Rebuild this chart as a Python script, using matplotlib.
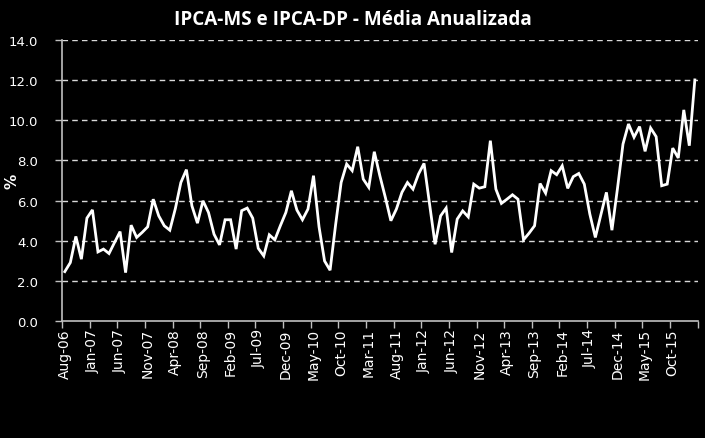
import matplotlib
matplotlib.use("Agg")
import matplotlib.pyplot as plt
import numpy as np
import pandas as pd

# Monthly series, Aug-06 .. Feb-16
months = pd.date_range("2006-08-01", "2016-02-01", freq="MS")
values = [
    2.47, 2.92, 4.22, 3.09, 5.13, 5.54, 3.45, 3.59, 3.37, 3.92,
    4.46, 2.42, 4.78, 4.17, 4.42, 4.70, 6.07, 5.24, 4.75, 4.53,
    5.60, 6.90, 7.54, 5.74, 4.88, 5.99, 5.41, 4.33, 3.80, 5.05,
    5.05, 3.59, 5.50, 5.63, 5.13, 3.63, 3.25, 4.30, 4.05, 4.75,
    5.41, 6.49, 5.53, 5.05, 5.58, 7.24, 4.70, 3.00, 2.54, 4.80,
    6.90, 7.82, 7.49, 8.68, 7.07, 6.66, 8.43, 7.24, 6.16, 5.00,
    5.58, 6.41, 6.90, 6.57, 7.32, 7.85, 5.83, 3.83, 5.24, 5.63,
    3.42, 5.08, 5.49, 5.19, 6.82, 6.62, 6.69, 8.98, 6.57, 5.86,
    6.07, 6.29, 6.07, 4.05, 4.38, 4.75, 6.85, 6.37, 7.49, 7.29,
    7.73, 6.61, 7.19, 7.35, 6.82, 5.33, 4.17, 5.30, 6.41, 4.53,
    6.60, 8.81, 9.81, 9.15, 9.68, 8.45, 9.61, 9.18, 6.74, 6.82,
    8.61, 8.12, 10.51, 8.73, 12.00,
]
labels = [m.strftime("%b-%y") for m in months]
y_ticks = [0, 2, 4, 6, 8, 10, 12, 14]

title = "IPCA-MS e IPCA-DP - Média Anualizada"
ylabel = "%"

fig = plt.figure(figsize=(7.05, 4.39), dpi=100, facecolor="black")
ax = fig.add_axes([0.088, 0.2658, 0.9015, 0.6415], facecolor="black")

x = np.arange(len(values))
ax.plot(x, values, color="white", lw=2.0, solid_joinstyle="miter")

ax.set_xlim(-0.5, len(values) - 0.5)
ax.set_ylim(0, 14)

ax.set_yticks(y_ticks)
ax.set_yticklabels([f"{v:.1f}" for v in y_ticks], color="white", fontsize=9.5)
for v in y_ticks[1:]:
    ax.axhline(v, color="#D9D9D9", lw=1.0, ls=(0, (4, 3)), zorder=0)

label_pos = list(range(0, len(values), 5))
ax.set_xticks(label_pos)
ax.set_xticklabels([labels[i] for i in label_pos], rotation=90, color="white",
                   fontsize=10)
ax.tick_params(axis="x", length=0, pad=5)
ax.set_xticks([p - 0.5 for p in label_pos] + [len(values) - 0.5], minor=True)
ax.tick_params(axis="x", which="minor", length=5, color="#BFBFBF", width=1)
ax.tick_params(axis="y", length=5, color="#BFBFBF", width=1, pad=12)

for s in ["top", "right"]:
    ax.spines[s].set_visible(False)
for s in ["left", "bottom"]:
    ax.spines[s].set_color("#BFBFBF")
    ax.spines[s].set_linewidth(1.2)

fig.text(12 / 705, 1 - 181 / 439, ylabel, color="white", fontsize=11,
         fontweight="bold", rotation=90, ha="center", va="center")
fig.text(0.5, 1 - 20 / 439, title, color="white", fontsize=13.6,
         fontweight="bold", ha="center", va="center", family="Open Sans")

fig.savefig("out.png", dpi=100, facecolor="black")
